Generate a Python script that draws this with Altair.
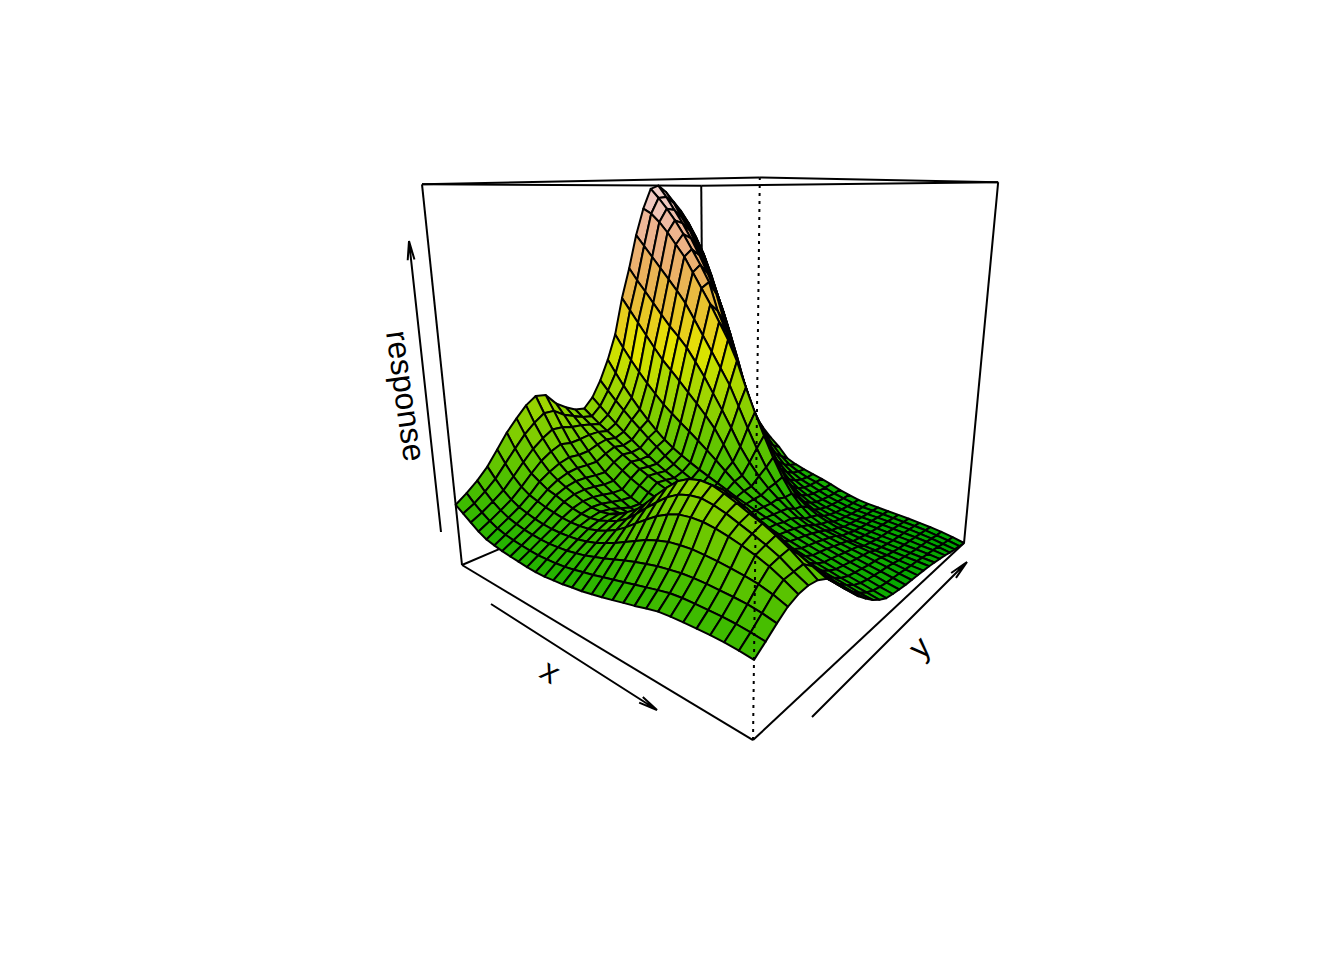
import colorsys
import altair as alt
import pandas as pd

# Surface heights (per mille of the box height); rows run along y, columns along x
heights = [
 [178,163,148,133,122,117,113,110,108,106,105,106,109,112,117,121,127,133,140,147,154,162,169,172,174,175,176,176,174,171],
 [200,180,164,150,140,133,129,126,124,123,124,126,129,134,140,146,153,160,167,174,181,188,194,197,198,198,198,197,194,190],
 [225,202,183,168,157,150,145,142,140,140,142,145,150,156,164,173,182,192,201,208,215,220,224,226,226,225,224,222,217,210],
 [255,228,204,187,175,168,162,158,156,156,158,161,167,175,186,198,212,226,240,250,258,262,264,263,261,258,254,249,240,228],
 [295,262,233,212,198,190,183,178,174,172,173,176,183,193,206,224,245,265,284,299,309,313,313,309,302,294,284,272,256,238],
 [335,296,264,240,225,212,205,196,188,183,182,186,195,206,222,245,271,295,318,334,342,345,339,330,318,306,293,278,258,241],
 [368,328,293,266,243,228,217,206,196,189,187,191,200,217,235,262,292,320,345,360,366,364,354,342,328,316,300,282,260,237],
 [398,353,315,284,257,238,223,208,196,187,182,181,182,190,205,232,262,292,316,335,345,343,332,318,302,288,272,255,240,225],
 [418,373,332,296,265,242,222,205,191,180,172,167,165,172,185,208,236,265,288,305,314,312,300,285,268,252,238,224,212,200],
 [413,372,330,290,262,240,218,200,185,173,162,153,152,160,170,188,212,238,258,273,280,276,262,245,228,212,200,190,182,175],
 [380,352,322,292,264,240,217,200,183,170,160,155,155,158,165,175,190,208,225,235,238,232,218,202,188,175,165,158,152,148],
 [360,340,318,296,274,254,236,220,205,193,182,174,168,164,162,165,172,183,193,199,200,194,182,170,158,148,140,132,125,120],
 [345,328,312,296,280,265,250,236,223,211,200,190,181,174,168,164,162,163,166,168,166,160,150,140,130,122,115,108,102,98],
 [340,322,305,290,275,260,246,232,219,208,197,187,179,172,166,162,158,155,152,149,145,137,128,118,110,102,96,90,83,78],
 [368,346,325,305,286,268,250,234,218,204,192,181,172,165,160,156,152,148,143,135,128,120,110,102,94,87,80,74,68,62],
 [415,388,362,338,315,293,272,252,232,215,200,187,176,167,160,154,148,143,132,122,114,106,98,90,83,76,70,64,57,50],
 [475,438,402,370,340,312,287,265,247,232,218,205,193,182,170,158,148,138,128,120,110,100,92,85,78,71,65,58,51,45],
 [550,512,477,445,415,387,360,338,317,297,276,254,232,208,185,165,150,137,125,112,104,95,87,80,73,66,60,54,47,41],
 [660,625,590,555,520,487,460,432,403,375,345,312,270,225,192,168,150,135,122,110,98,88,80,73,67,61,55,50,44,38],
 [750,715,683,650,617,585,558,528,490,450,405,360,312,262,222,188,160,138,118,100,88,80,73,67,62,57,52,47,41,36],
 [850,818,786,754,722,690,655,610,565,520,475,429,370,310,255,205,165,130,104,85,76,70,65,60,56,52,48,43,38,34],
 [930,915,890,860,825,790,745,700,655,605,555,495,420,350,285,225,172,130,100,78,66,58,52,47,44,42,40,37,34,32],
 [990,962,930,895,855,810,765,715,630,570,500,425,350,295,240,185,140,105,85,70,60,52,47,43,40,38,36,34,32,30],
 [1000,965,925,885,840,790,735,675,585,505,410,335,270,215,170,130,100,80,65,55,47,42,40,38,36,34,32,30,28,26],
 [980,945,900,860,800,745,685,615,520,430,330,265,210,165,128,100,80,65,55,47,42,39,37,35,33,31,29,27,25,22],
 [950,915,870,820,760,695,620,540,440,350,265,210,165,130,102,82,68,56,48,42,38,36,35,33,31,29,27,24,22,18],
 [920,880,830,775,700,625,545,460,365,285,215,170,135,108,88,73,62,52,45,39,35,34,33,31,29,27,25,22,18,12],
 [880,835,780,710,630,545,460,375,295,230,180,145,115,95,80,70,60,50,43,37,33,32,31,29,27,25,22,18,13,8],
 [830,775,710,630,540,450,370,295,235,190,155,125,102,88,77,69,59,49,42,36,32,31,29,27,25,23,20,15,10,4],
 [780,700,610,530,440,350,280,230,195,165,140,108,95,85,77,70,60,50,42,35,31,29,27,25,23,20,17,13,7,0],
]
N = 30
ZMAX = 1000.0

# Box edges as corners (x, y, z) of the unit cube
box_back = [[(0,0,0),(1,0,0)],[(1,0,0),(1,1,0)],[(0,0,0),(0,1,0)],[(0,1,0),(1,1,0)],
            [(0,1,0),(0,1,1)],[(0,0,0),(0,0,1)],[(1,1,0),(1,1,1)],
            [(0,0,1),(0,1,1)],[(0,1,1),(1,1,1)],[(0,0,1),(1,0,1)],[(1,0,1),(1,1,1)]]
box_front = [[(1,0,0),(1,0,1)]]

# Axis arrows: start and tip on the page
arrow_x = [(491,604),(657,710)]
arrow_y = [(812,717),(967,562)]
arrow_z = [(441,532),(409,241)]
axis_labels = [("x",550,672,32),("y",920,648,-45),("response",405,396,82)]


def project(x, y, z):
    w = 1 - 0.3218*x + 0.3778*y - 0.132*z
    return ((462 + 48.7*x + 507.3*y - 95.7*z)/w, (565 - 63.1*x + 71.5*y - 405*z)/w)


def terrain(n=50):
    k = n//2
    out = []
    for a in range(k):
        f = a/(k-1)
        out.append(colorsys.hsv_to_rgb(1/3 - f/6, 1.0, 0.65 + 0.25*f))
    for a in range(1, n-k+1):
        f = a/(n-k)
        out.append(colorsys.hsv_to_rgb((1-f)/6, 1-f, 0.9 + 0.05*f))
    return ["#%02x%02x%02x" % tuple(int(round(c*255)) for c in rgb) for rgb in out]


pal = terrain()
rows = []
cell = 0
for i in range(N-1):
    for j in range(N-2, -1, -1):
        corners = [(i,j),(i+1,j),(i+1,j+1),(i,j+1)]
        mean = sum(heights[b][a] for a, b in corners)/4/ZMAX
        col = pal[min(49, int(mean*0.95*49))]
        for k, (a, b) in enumerate(corners):
            px, py = project(a/(N-1), b/(N-1), heights[b][a]/ZMAX)
            rows.append({"cell": cell, "k": k, "px": round(px,1), "py": round(py,1), "col": col})
        cell += 1
surface_df = pd.DataFrame(rows)


def edges(lst):
    r = []
    for e, (p, q) in enumerate(lst):
        for k, c in enumerate((p, q)):
            px, py = project(*c)
            r.append({"e": e, "k": k, "px": px, "py": py})
    return pd.DataFrame(r)


def arrow(name, a):
    (x0, y0), (x1, y1) = a
    d = ((x1-x0)**2 + (y1-y0)**2)**0.5
    ux, uy = (x1-x0)/d, (y1-y0)/d
    L, W = 19, 3.4
    pts = [(x0,y0),(x1,y1),(x1-L*ux-W*uy, y1-L*uy+W*ux),(x1,y1),(x1-L*ux+W*uy, y1-L*uy-W*ux)]
    return [{"e": name, "k": k, "px": p[0], "py": p[1]} for k, p in enumerate(pts)]


arrows_df = pd.DataFrame(arrow("x", arrow_x) + arrow("y", arrow_y) + arrow("z", arrow_z))

X = alt.X("px:Q", scale=alt.Scale(domain=[8,1336], nice=False, zero=False), axis=None)
Y = alt.Y("py:Q", scale=alt.Scale(domain=[952,8], nice=False, zero=False), axis=None)


def line_layer(df, **mk):
    return alt.Chart(df).mark_line(stroke="black", strokeWidth=2, strokeCap="butt", **mk).encode(
        x=X, y=Y, detail="e:N", order="k:Q")


back = line_layer(edges(box_back))
surface = alt.Chart(surface_df).mark_line(
    interpolate="linear-closed", stroke="black", strokeWidth=2, strokeJoin="round"
).encode(x=X, y=Y, detail="cell:O", order="k:Q", fill=alt.Fill("col:N", scale=None))
front = line_layer(edges(box_front), strokeDash=[3,5])
arrows = line_layer(arrows_df)

labels = []
for txt, lx, ly, ang in axis_labels:
    labels.append(alt.Chart(pd.DataFrame([{"px": lx, "py": ly, "t": txt}])).mark_text(
        font="Liberation Sans", fontSize=32, angle=(ang % 360), align="center", baseline="middle", color="black"
    ).encode(x=X, y=Y, text="t:N"))

chart = alt.layer(back, surface, front, arrows, *labels).properties(
    width=1328, height=944, padding=0, autosize=alt.AutoSizeParams(type="none"), background="white"
).configure_view(stroke=None)

chart.save("out.html", embed_options={"renderer": "svg", "actions": False})
